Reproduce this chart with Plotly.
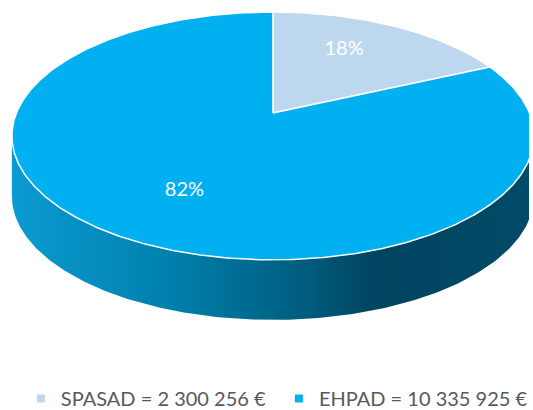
import numpy as np
import plotly.graph_objects as go

# ---- data ----
categories = ["SPASAD", "EHPAD"]
amounts = [2300256, 10335925]
legend_labels = ["SPASAD = 2 300 256 €", "EHPAD = 10 335 925 €"]
colors = ["#BDD7EE", "#00B0F0"]

# ---- geometry / style (pixel space) ----
W, H = 533, 418            # figure slightly taller than the 410px window
CX, CY = 275.0, 113.0      # projected pie centre
A, B = 258.5, 119.7        # projected radii
P = 0.185                  # perspective factor
DEPTH = 60.0               # thickness of the pie side
LABEL_R = 0.66
LABEL_SHIFT = -5.0         # degrees


def proj(theta_deg, r=1.0):
    t = np.radians(theta_deg)
    u = r * np.sin(t)
    v = r * np.cos(t)
    d = 1 + P * v
    return CX + A * u / d, CY - B * v / d


total = float(sum(amounts))
fractions = [a / total for a in amounts]
starts = np.concatenate([[0.0], np.cumsum(fractions)[:-1]]) * 360
ends = np.cumsum(fractions) * 360

fig = go.Figure()

# side of the pie (front half, visible)
t_right = np.degrees(np.arccos(-P))
t_left = 360 - t_right
ts = np.linspace(t_right, t_left, 200)
xt, yt = proj(ts)
xs = np.concatenate([xt, xt[::-1]])
ys = np.concatenate([yt, (yt + DEPTH)[::-1]])
fig.add_trace(go.Scatter(
    x=xs, y=ys, mode="lines", fill="toself", line=dict(width=0),
    fillgradient=dict(type="horizontal", colorscale=[
        [0.0, "#0A9BD2"], [0.3, "#0080AD"], [0.55, "#005E80"],
        [0.7, "#00445F"], [1.0, "#004B68"]]),
    hoverinfo="skip", showlegend=False))

# top face slices
for name, s, e, c in zip(categories, starts, ends, colors):
    ts = np.linspace(s, e, max(int((e - s) * 2), 10))
    xe, ye = proj(ts)
    xs = np.concatenate([[CX], xe, [CX]])
    ys = np.concatenate([[CY], ye, [CY]])
    fig.add_trace(go.Scatter(
        x=xs, y=ys, mode="lines", fill="toself", fillcolor=c,
        line=dict(color="white", width=1.5), hoverinfo="skip",
        showlegend=False))

# percentage labels
mids = (starts + ends) / 2 + LABEL_SHIFT
lx, ly = proj(mids, LABEL_R)
fig.add_trace(go.Scatter(
    x=lx, y=ly, mode="text",
    text=[f"{round(f * 100)}%" for f in fractions],
    textfont=dict(family="Lato, sans-serif", size=20, color="white"),
    hoverinfo="skip", showlegend=False))

# legend entries (one legend each, placed side by side)
legend_ids = ["legend", "legend2"]
for lab, c, lg in zip(legend_labels, colors, legend_ids):
    fig.add_trace(go.Scatter(
        x=[None], y=[None], mode="markers", name=lab, legend=lg,
        marker=dict(symbol="square", size=8, color=c)))

legend_style = dict(orientation="h", xanchor="left", y=0, yanchor="bottom",
                    font=dict(family="Lato, sans-serif", size=20,
                              color="#595959"),
                    bgcolor="rgba(0,0,0,0)")

fig.update_layout(
    width=W, height=H,
    margin=dict(l=0, r=0, t=0, b=0),
    paper_bgcolor="white", plot_bgcolor="white",
    xaxis=dict(range=[0, W], visible=False, fixedrange=True),
    yaxis=dict(range=[H, 0], visible=False, fixedrange=True),
    legend=dict(x=21 / W, **legend_style),
    legend2=dict(x=281 / W, **legend_style),
)

fig.write_html(
    "out.html", config={"displayModeBar": False},
    post_script="document.body.style.margin='0';"
                "document.body.style.overflow='hidden';")
